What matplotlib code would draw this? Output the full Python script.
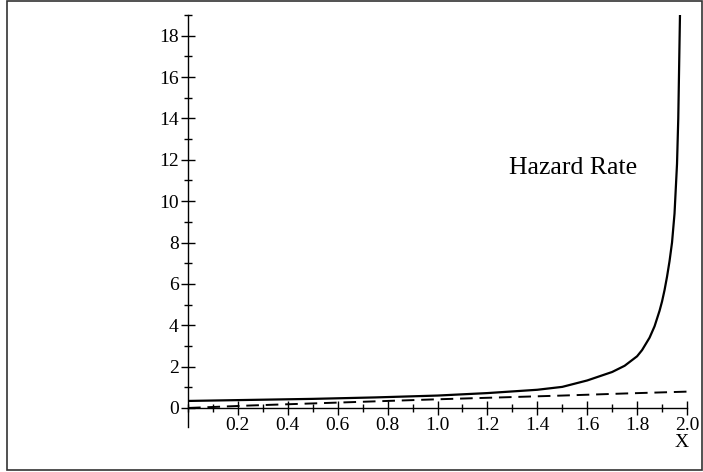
import numpy as np
import matplotlib.pyplot as plt
from matplotlib.patches import Rectangle
from matplotlib.ticker import MultipleLocator

# hazard rate (solid curve)
hazard_x = [0.0, 0.25, 0.5, 0.75, 1.0, 1.2, 1.4, 1.5, 1.6, 1.7, 1.75, 1.8, 1.82,
            1.85, 1.87, 1.89, 1.9, 1.91, 1.92, 1.93, 1.94, 1.95, 1.96, 1.965, 1.972]
hazard_y = [0.34, 0.39, 0.44, 0.51, 0.6, 0.72, 0.88, 1.02, 1.33, 1.74, 2.04, 2.5, 2.8,
            3.4, 3.95, 4.7, 5.15, 5.7, 6.35, 7.1, 8.0, 9.4, 11.8, 14.0, 19.1]

# dashed curve
dash_x = [0.0, 0.25, 0.5, 0.75, 1.0, 1.25, 1.5, 1.75, 2.0]
dash_y = [0.0, 0.12, 0.22, 0.32, 0.42, 0.51, 0.6, 0.7, 0.79]

label_text = 'Hazard Rate'
xlabel = 'X'

W, H = 703, 472
fig = plt.figure(figsize=(W / 100, H / 100), dpi=100)
plt.rcParams['font.family'] = ['Liberation Serif', 'DejaVu Serif']

# axes box in pixels: x 0 -> 188, x 2.0 -> 687 ; y top 15, bottom 427
left, right, top, bottom = 188, 687, 15, 427
ax = fig.add_axes([left / W, 1 - bottom / H, (right - left) / W, (bottom - top) / H])
ax.set_xlim(0, 2.0)
ax.set_ylim(-0.92, 19.0)

ax.plot(hazard_x, hazard_y, color='black', lw=1.6, solid_joinstyle='round')
ax.plot(dash_x, dash_y, color='black', lw=1.4, dashes=(6.5, 3.5))

ax.spines['left'].set_position(('data', 0))
ax.spines['bottom'].set_position(('data', 0))
ax.spines['right'].set_visible(False)
ax.spines['top'].set_visible(False)
for s in ('left', 'bottom'):
    ax.spines[s].set_linewidth(1.0)

ax.xaxis.set_minor_locator(MultipleLocator(0.1))
ax.yaxis.set_minor_locator(MultipleLocator(1))
ax.set_xticks([0.2, 0.4, 0.6, 0.8, 1.0, 1.2, 1.4, 1.6, 1.8, 2.0])
ax.set_xticklabels(['0.2', '0.4', '0.6', '0.8', '1.0', '1.2', '1.4', '1.6', '1.8', '2.0'])
ax.set_yticks(range(0, 19, 2))
ax.tick_params(which='major', direction='inout', length=9.5, width=1.0, labelsize=14, pad=2)
ax.tick_params(which='minor', direction='inout', length=5.5, width=1.0)
ax.tick_params(axis='x', which='major', pad=2)

ax.text(1.543, 11.6, label_text, fontsize=18.5, ha='center', va='center')
ax.text(1.98, -1.9, xlabel, fontsize=14, ha='center', va='baseline', clip_on=False)

fig.patches.append(Rectangle((7 / W, 2 / H), 695 / W, 469 / H, transform=fig.transFigure,
                             fill=False, edgecolor='#333333', lw=1.2))

fig.savefig('out.png', dpi=100)
